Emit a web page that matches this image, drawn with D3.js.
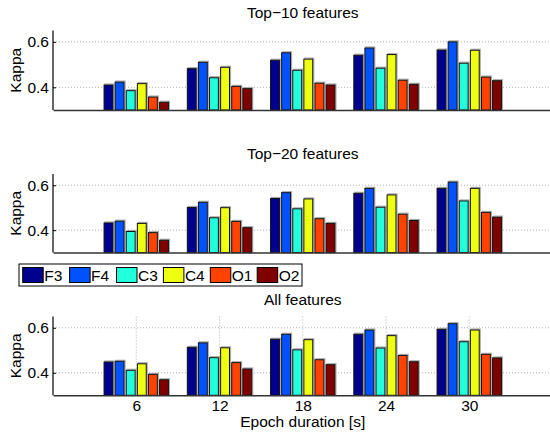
<!DOCTYPE html>
<html>
<head>
<meta charset="utf-8">
<script src="https://cdn.jsdelivr.net/npm/d3@7"></script>
<style>
  html, body { margin: 0; padding: 0; background: #fff; }
  svg { display: block; font-family: "Liberation Sans", Arial, Helvetica, sans-serif; }
</style>
</head>
<body>
<div id="chart"></div>
<script>
// ---- data ----
const categories = ["6", "12", "18", "24", "30"];
const channels = ["F3", "F4", "C3", "C4", "O1", "O2"];
const channelColors = ["#00008f", "#0052ff", "#22ffdd", "#eeff12", "#ff4200", "#800000"];
const panelTitles = ["Top\u221210 features", "Top\u221220 features", "All features"];
const yTicks = [0.4, 0.6];

// values[channel][category]
const top10 = [
  [0.410, 0.482, 0.519, 0.541, 0.564], // F3
  [0.423, 0.510, 0.552, 0.573, 0.600], // F4
  [0.385, 0.442, 0.475, 0.484, 0.506], // C3
  [0.416, 0.488, 0.524, 0.544, 0.563], // C4
  [0.357, 0.404, 0.418, 0.431, 0.445], // O1
  [0.334, 0.394, 0.410, 0.413, 0.429]  // O2
];
const top20 = [
  [0.432, 0.501, 0.541, 0.564, 0.586],
  [0.440, 0.524, 0.567, 0.586, 0.614],
  [0.394, 0.455, 0.495, 0.502, 0.530],
  [0.430, 0.500, 0.539, 0.557, 0.586],
  [0.389, 0.439, 0.451, 0.471, 0.479],
  [0.355, 0.411, 0.430, 0.443, 0.458]
];
const allFeat = [
  [0.448, 0.513, 0.549, 0.571, 0.593],
  [0.451, 0.533, 0.571, 0.590, 0.618],
  [0.411, 0.467, 0.502, 0.510, 0.538],
  [0.440, 0.511, 0.547, 0.565, 0.590],
  [0.393, 0.445, 0.458, 0.477, 0.482],
  [0.369, 0.417, 0.436, 0.449, 0.466]
];
const panelData = [top10, top20, allFeat];

// ---- layout ----
const W = 550, H = 432;
const svg = d3.select("#chart").append("svg").attr("width", W).attr("height", H);
const x = d3.scaleLinear().domain([0, 6]).range([53, 552.5]);
const panels = [
  { top: 30.5, base: 110, titleY: 18, xTicks: false },
  { top: 174, base: 252.6, titleY: 159, xTicks: false },
  { top: 316.5, base: 395.3, titleY: 304.5, xTicks: true }
];
const groupWidth = 0.8;
const pitch = groupWidth / channels.length;
const barW = pitch * 0.8;
const FS = 15.5;

panels.forEach((p, pi) => {
  const y = d3.scaleLinear().domain([0.3, 0.65]).range([p.base, p.top]);
  const g = svg.append("g");

  // horizontal grid
  g.selectAll(".hg").data(yTicks).enter().append("line")
    .attr("x1", x(0)).attr("x2", x(6))
    .attr("y1", d => y(d)).attr("y2", d => y(d))
    .attr("stroke", "#b0b0b0").attr("stroke-width", 1)
    .attr("stroke-dasharray", "1,2");

  // vertical grid (bottom panel only)
  if (p.xTicks) {
    g.selectAll(".vg").data(categories).enter().append("line")
      .attr("x1", (d, i) => x(i + 1)).attr("x2", (d, i) => x(i + 1))
      .attr("y1", p.top).attr("y2", p.base)
      .attr("stroke", "#b0b0b0").attr("stroke-width", 1)
      .attr("stroke-dasharray", "1,2");
  }

  // bars
  const data = panelData[pi];
  channels.forEach((ch, ci) => {
    const off = (ci - (channels.length - 1) / 2) * pitch;
    const bars = data[ci].map((v, k) => ({ v, k }));
    g.selectAll(".sh" + ci).data(bars).enter().append("rect")
      .attr("x", d => x(d.k + 1 + off - barW / 2) + 1)
      .attr("y", d => y(d.v) - 1)
      .attr("width", x(barW) - x(0))
      .attr("height", d => p.base - y(d.v))
      .attr("fill", "none").attr("stroke", "#aaa").attr("stroke-width", 1.2);
    g.selectAll(".b" + ci).data(bars).enter().append("rect")
      .attr("x", d => x(d.k + 1 + off - barW / 2))
      .attr("y", d => y(d.v))
      .attr("width", x(barW) - x(0))
      .attr("height", d => p.base - y(d.v))
      .attr("fill", channelColors[ci])
      .attr("stroke", "#111").attr("stroke-width", 1);
  });

  // y axis
  const yAxis = d3.axisLeft(y).tickValues(yTicks).tickFormat(d3.format(".1f")).tickSize(-3).tickPadding(4);
  const ya = g.append("g").attr("transform", `translate(${x(0)},0)`).call(yAxis);
  ya.select(".domain").attr("stroke", "#000").attr("stroke-width", 1.2).attr("d", `M0,${p.top}V${p.base}`);
  ya.selectAll(".tick line").attr("stroke", "#000");
  ya.selectAll(".tick text").attr("font-size", FS).attr("fill", "#000")
    .attr("font-family", "Liberation Sans, Arial, sans-serif");

  // x axis baseline
  const xAxis = d3.axisBottom(x).tickValues(p.xTicks ? [1, 2, 3, 4, 5] : [])
    .tickFormat((d) => categories[d - 1]).tickSize(0).tickPadding(4.5);
  const xa = g.append("g").attr("transform", `translate(0,${p.base})`).call(xAxis);
  xa.select(".domain").attr("stroke", "#333").attr("stroke-width", 1.5);
  xa.selectAll(".tick text").attr("font-size", FS).attr("fill", "#000")
    .attr("font-family", "Liberation Sans, Arial, sans-serif");

  // title
  svg.append("text").attr("x", (x(0) + x(6)) / 2).attr("y", p.titleY)
    .attr("text-anchor", "middle").attr("font-size", FS).text(panelTitles[pi]);

  // y label
  svg.append("text")
    .attr("transform", `translate(21,${(p.top + p.base) / 2}) rotate(-90)`)
    .attr("text-anchor", "middle").attr("font-size", FS).text("Kappa");
});

// x label
svg.append("text").attr("x", (x(0) + x(6)) / 2).attr("y", 426.5)
  .attr("text-anchor", "middle").attr("font-size", FS).text("Epoch duration [s]");

// legend
const leg = svg.append("g");
leg.append("rect").attr("x", 19).attr("y", 264).attr("width", 283).attr("height", 22)
  .attr("fill", "#fff").attr("stroke", "#000").attr("stroke-width", 1);
channels.forEach((ch, ci) => {
  const lx = 22.7 + ci * 46.9;
  leg.append("rect").attr("x", lx).attr("y", 267.5).attr("width", 20.5).attr("height", 15)
    .attr("fill", channelColors[ci]).attr("stroke", "#000").attr("stroke-width", 1);
  leg.append("text").attr("x", lx + 21.5).attr("y", 280.5).attr("font-size", FS).text(ch);
});
</script>
</body>
</html>
